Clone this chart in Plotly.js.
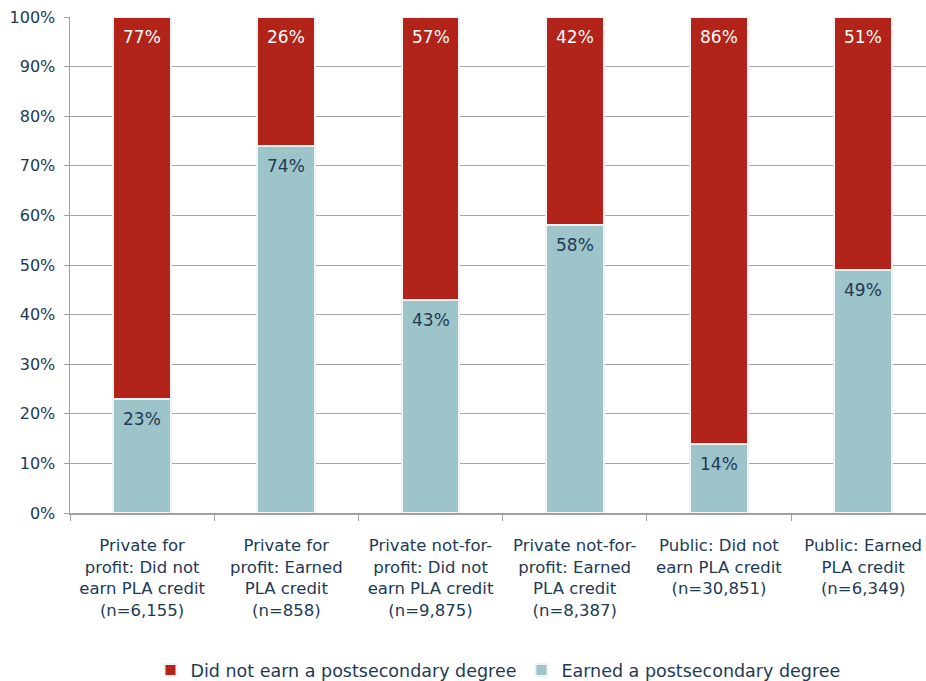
<!DOCTYPE html>
<html><head><meta charset="utf-8">
<script src="https://cdn.plot.ly/plotly-3.0.1.min.js"></script>
<style>html,body{margin:0;padding:0;background:#fff}#chart{width:926px;height:681px}</style>
</head><body><div id="chart"></div>
<script>
const categories = [
  "Private for<br>profit: Did not<br>earn PLA credit<br>(n=6,155)",
  "Private for<br>profit: Earned<br>PLA credit<br>(n=858)",
  "Private not-for-<br>profit: Did not<br>earn PLA credit<br>(n=9,875)",
  "Private not-for-<br>profit: Earned<br>PLA credit<br>(n=8,387)",
  "Public: Did not<br>earn PLA credit<br>(n=30,851)",
  "Public: Earned<br>PLA credit<br>(n=6,349)"
];
const earned = [23, 74, 43, 58, 14, 49];
const notEarned = [77, 26, 57, 42, 86, 51];
const yTicks = [0,10,20,30,40,50,60,70,80,90,100];

const FONT = "DejaVu Sans, Verdana, sans-serif";
const NAVY = "#1d3a55";
const traces = [
  {type:"bar", name:"Earned a postsecondary degree", x:categories, y:earned,
   marker:{color:"#9dc4c9", line:{color:"#f2f2f2", width:2}}, hoverinfo:"skip"},
  {type:"bar", name:"Did not earn a postsecondary degree", x:categories, y:notEarned,
   marker:{color:"#b22419", line:{color:"#f2f2f2", width:2}}, hoverinfo:"skip"}
];
const annotations = [];
categories.forEach((c,i)=>{
  annotations.push({x:c, y:earned[i], xref:"x", yref:"y", text:earned[i]+"%", showarrow:false,
    yanchor:"middle", yshift:-20, font:{size:17, color:NAVY, family:FONT}});
  annotations.push({x:c, y:earned[i]+notEarned[i], xref:"x", yref:"y", text:notEarned[i]+"%", showarrow:false,
    yanchor:"middle", yshift:-20, font:{size:17, color:"#ffffff", family:FONT}});
});
const layout = {
  width:926, height:681, barmode:"stack", bargap:0.6,
  paper_bgcolor:"#fff", plot_bgcolor:"#fff",
  margin:{l:70, r:0, t:17, b:168, autoexpand:false},
  font:{family:FONT, size:16, color:NAVY},
  annotations:annotations,
  xaxis:{range:[-0.5,5.436], tickangle:0, showline:true, linecolor:"#a0a0a0", linewidth:1.5,
         ticks:"outside", tickson:"boundaries", ticklen:6, tickcolor:"#a0a0a0", automargin:false,
         ticklabelstandoff:17, tickfont:{size:16.5, color:NAVY}, showgrid:false},
  yaxis:{range:[0,100], tickvals:yTicks, ticktext:yTicks.map(v=>v+"%"),
         showline:true, linecolor:"#a0a0a0", linewidth:1.5, ticks:"outside", ticklen:5,
         tickcolor:"#a0a0a0", gridcolor:"#a6a6a6", gridwidth:1, zeroline:false, automargin:false,
         ticklabelstandoff:5, tickfont:{size:16, color:NAVY}},
  legend:{orientation:"h", x:0.5, xanchor:"center", y:-0.317, yanchor:"middle",
          traceorder:"reversed", font:{size:17.5, color:NAVY}, itemwidth:30}
};
Plotly.newPlot("chart", traces, layout, {displayModeBar:false, staticPlot:true});
</script></body></html>
